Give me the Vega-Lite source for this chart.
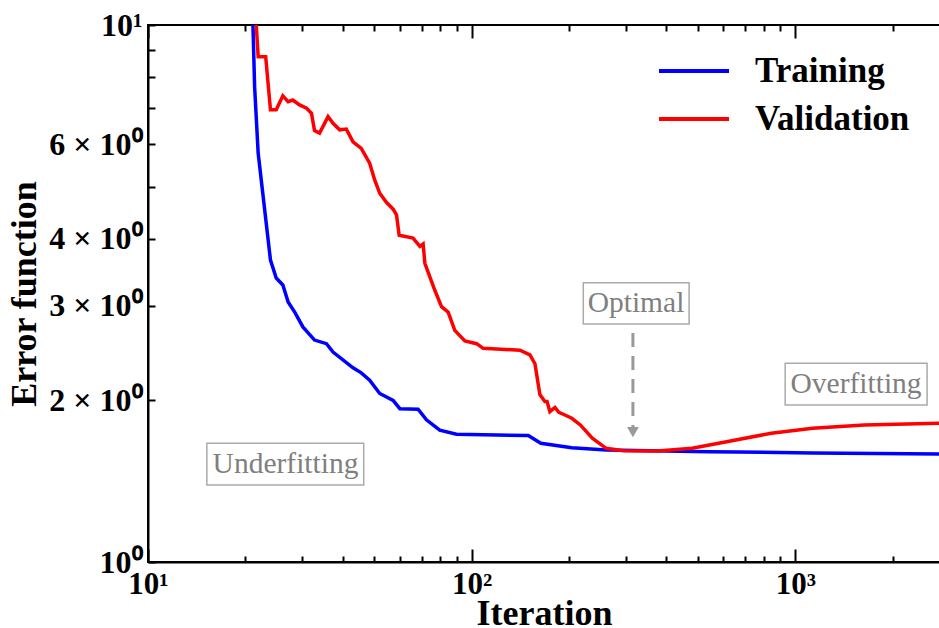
{
  "$schema": "https://vega.github.io/schema/vega-lite/v6.json",
  "width": 792,
  "height": 537,
  "autosize": {"type": "none"},
  "padding": {"left": 148, "top": 25, "right": 0, "bottom": 66},
  "background": "white",
  "config": {"view": {"stroke": "black", "strokeWidth": 2}, "font": "Liberation Serif"},
  "datasets": {
    "curves": [
      {"series": "Training", "iteration": 21.1, "error": 10},
      {"series": "Training", "iteration": 21.35, "error": 7.68},
      {"series": "Training", "iteration": 21.9, "error": 5.77},
      {"series": "Training", "iteration": 23.9, "error": 3.65},
      {"series": "Training", "iteration": 24.9, "error": 3.38},
      {"series": "Training", "iteration": 26.1, "error": 3.28},
      {"series": "Training", "iteration": 27.1, "error": 3.05},
      {"series": "Training", "iteration": 28.4, "error": 2.92},
      {"series": "Training", "iteration": 30.1, "error": 2.74},
      {"series": "Training", "iteration": 32.7, "error": 2.59},
      {"series": "Training", "iteration": 35.6, "error": 2.55},
      {"series": "Training", "iteration": 37.3, "error": 2.46},
      {"series": "Training", "iteration": 43.0, "error": 2.30},
      {"series": "Training", "iteration": 45.6, "error": 2.25},
      {"series": "Training", "iteration": 48.4, "error": 2.18},
      {"series": "Training", "iteration": 52.0, "error": 2.06},
      {"series": "Training", "iteration": 57.2, "error": 2.00},
      {"series": "Training", "iteration": 60.0, "error": 1.93},
      {"series": "Training", "iteration": 68.3, "error": 1.925},
      {"series": "Training", "iteration": 72.5, "error": 1.84},
      {"series": "Training", "iteration": 79.7, "error": 1.76},
      {"series": "Training", "iteration": 89.8, "error": 1.73},
      {"series": "Training", "iteration": 149.6, "error": 1.72},
      {"series": "Training", "iteration": 163.6, "error": 1.664},
      {"series": "Training", "iteration": 203.9, "error": 1.632},
      {"series": "Training", "iteration": 260.4, "error": 1.617},
      {"series": "Training", "iteration": 542.8, "error": 1.605},
      {"series": "Training", "iteration": 1131, "error": 1.596},
      {"series": "Training", "iteration": 2800, "error": 1.589},
      {"series": "Validation", "iteration": 21.6, "error": 10},
      {"series": "Validation", "iteration": 21.9, "error": 8.73},
      {"series": "Validation", "iteration": 23.1, "error": 8.73},
      {"series": "Validation", "iteration": 23.9, "error": 6.95},
      {"series": "Validation", "iteration": 24.9, "error": 6.95},
      {"series": "Validation", "iteration": 26.1, "error": 7.38},
      {"series": "Validation", "iteration": 27.1, "error": 7.20},
      {"series": "Validation", "iteration": 28.0, "error": 7.25},
      {"series": "Validation", "iteration": 29.4, "error": 7.10},
      {"series": "Validation", "iteration": 30.9, "error": 7.00},
      {"series": "Validation", "iteration": 32.0, "error": 6.85},
      {"series": "Validation", "iteration": 32.7, "error": 6.36},
      {"series": "Validation", "iteration": 33.9, "error": 6.29},
      {"series": "Validation", "iteration": 36.0, "error": 6.75},
      {"series": "Validation", "iteration": 37.3, "error": 6.56},
      {"series": "Validation", "iteration": 39.1, "error": 6.38},
      {"series": "Validation", "iteration": 41.0, "error": 6.40},
      {"series": "Validation", "iteration": 43.0, "error": 6.06},
      {"series": "Validation", "iteration": 45.6, "error": 5.89},
      {"series": "Validation", "iteration": 48.4, "error": 5.53},
      {"series": "Validation", "iteration": 50.2, "error": 5.14},
      {"series": "Validation", "iteration": 52.0, "error": 4.86},
      {"series": "Validation", "iteration": 54.6, "error": 4.67},
      {"series": "Validation", "iteration": 57.2, "error": 4.54},
      {"series": "Validation", "iteration": 58.6, "error": 4.43},
      {"series": "Validation", "iteration": 59.7, "error": 4.06},
      {"series": "Validation", "iteration": 65.9, "error": 4.01},
      {"series": "Validation", "iteration": 69.2, "error": 3.87},
      {"series": "Validation", "iteration": 70.8, "error": 3.91},
      {"series": "Validation", "iteration": 71.7, "error": 3.60},
      {"series": "Validation", "iteration": 76.9, "error": 3.21},
      {"series": "Validation", "iteration": 80.7, "error": 2.99},
      {"series": "Validation", "iteration": 84.6, "error": 2.92},
      {"series": "Validation", "iteration": 88.7, "error": 2.70},
      {"series": "Validation", "iteration": 95.3, "error": 2.58},
      {"series": "Validation", "iteration": 103.6, "error": 2.55},
      {"series": "Validation", "iteration": 108.5, "error": 2.50},
      {"series": "Validation", "iteration": 141.0, "error": 2.48},
      {"series": "Validation", "iteration": 151.4, "error": 2.43},
      {"series": "Validation", "iteration": 156.9, "error": 2.34},
      {"series": "Validation", "iteration": 162.5, "error": 2.05},
      {"series": "Validation", "iteration": 168.4, "error": 1.99},
      {"series": "Validation", "iteration": 171.0, "error": 1.99},
      {"series": "Validation", "iteration": 174.5, "error": 1.905},
      {"series": "Validation", "iteration": 180.9, "error": 1.94},
      {"series": "Validation", "iteration": 186.0, "error": 1.90},
      {"series": "Validation", "iteration": 194.2, "error": 1.878},
      {"series": "Validation", "iteration": 203.9, "error": 1.852},
      {"series": "Validation", "iteration": 216.7, "error": 1.80},
      {"series": "Validation", "iteration": 236.0, "error": 1.70},
      {"series": "Validation", "iteration": 260.4, "error": 1.628},
      {"series": "Validation", "iteration": 294.3, "error": 1.612},
      {"series": "Validation", "iteration": 375.8, "error": 1.61},
      {"series": "Validation", "iteration": 480, "error": 1.628},
      {"series": "Validation", "iteration": 613.4, "error": 1.675},
      {"series": "Validation", "iteration": 842.7, "error": 1.737},
      {"series": "Validation", "iteration": 1131, "error": 1.774},
      {"series": "Validation", "iteration": 1632, "error": 1.80},
      {"series": "Validation", "iteration": 2800, "error": 1.813}
    ],
    "boxes": [
      {"label": "Underfitting", "x1": 15.2, "x2": 46.4, "y1": 1.391, "y2": 1.664, "xc": 26.6, "yc": 1.522},
      {"label": "Optimal", "x1": 221.3, "x2": 469.8, "y1": 2.776, "y2": 3.312, "xc": 322, "yc": 3.035},
      {"label": "Overfitting", "x1": 930.6, "x2": 2554, "y1": 1.96, "y2": 2.344, "xc": 1541, "yc": 2.145}
    ],
    "arrow": [
      {"iteration": 315, "start": 2.669, "end": 1.784, "head": 1.746}
    ]
  },
  "layer": [
    {
      "data": {"name": "curves"},
      "mark": {"type": "line", "strokeWidth": 3.5, "clip": true},
      "encoding": {
        "x": {
          "field": "iteration", "type": "quantitative",
          "scale": {"type": "log", "domain": [10, 2800], "nice": false},
          "axis": {
            "orient": "bottom", "title": "Iteration",
            "values": [10, 100, 1000],
            "labelExpr": "datum.value == 10 ? '10¹' : datum.value == 100 ? '10²' : '10³'",
            "ticks": false, "tickSize": 0,
            "grid": true, "gridColor": "black", "gridWidth": 2, "gridOpacity": 1, "gridDash": [13, 511, 13, 0],
            "domainColor": "black", "domainWidth": 2,
            "labelFont": "Liberation Serif", "labelFontSize": 31, "labelFontWeight": "bold", "labelColor": "black",
            "labelPadding": 7, "labelFlush": false, "labelOverlap": false,
            "titleFont": "Liberation Serif", "titleFontSize": 36, "titleFontWeight": "bold", "titleColor": "black", "titlePadding": -3
          }
        },
        "y": {
          "field": "error", "type": "quantitative",
          "scale": {"type": "log", "domain": [1, 10], "nice": false},
          "axis": {
            "orient": "left", "title": "Error function",
            "values": [1, 2, 3, 4, 5, 6, 7, 8, 9, 10],
            "labelExpr": "datum.value == 1 ? '10⁰' : datum.value == 10 ? '10¹' : (datum.value == 2 || datum.value == 3 || datum.value == 4 || datum.value == 6) ? datum.value + ' × 10⁰' : ''",
            "ticks": false, "tickSize": 0,
            "grid": true, "gridColor": "black", "gridWidth": 2, "gridOpacity": 1, "gridDash": [7, 2000],
            "domainColor": "black", "domainWidth": 2,
            "labelFont": "Liberation Serif", "labelFontSize": 32, "labelFontWeight": "bold", "labelColor": "black",
            "labelPadding": 6, "labelOverlap": false,
            "titleFont": "Liberation Serif", "titleFontSize": 36, "titleFontWeight": "bold", "titleColor": "black", "titlePadding": 5
          }
        },
        "color": {
          "field": "series", "type": "nominal",
          "scale": {"domain": ["Training", "Validation"], "range": ["#0000ff", "#ff0000"]},
          "legend": {
            "title": null, "orient": "none", "legendX": 509, "legendY": 28,
            "symbolType": "stroke", "symbolSize": 4900, "symbolStrokeWidth": 4,
            "clipHeight": 36,
            "labelFont": "Liberation Serif", "labelFontSize": 35, "labelFontWeight": "bold", "labelColor": "black",
            "labelOffset": 24, "rowPadding": 12, "padding": 0, "labelLimit": 400
          }
        }
      }
    },
    {
      "data": {"name": "boxes"},
      "mark": {"type": "rect", "fillOpacity": 0, "stroke": "#aaaaaa", "strokeWidth": 1.5},
      "encoding": {
        "x": {
          "field": "x1", "type": "quantitative",
          "axis": {
            "orient": "bottom", "title": null, "labels": false, "domain": false, "ticks": false,
            "values": [20, 30, 40, 50, 60, 70, 80, 90, 200, 300, 400, 500, 600, 700, 800, 900, 2000],
            "grid": true, "gridColor": "black", "gridWidth": 2, "gridOpacity": 1, "gridDash": [6, 525, 6, 0]
          }
        },
        "x2": {"field": "x2"},
        "y": {"field": "y1", "type": "quantitative", "axis": null},
        "y2": {"field": "y2"}
      }
    },
    {
      "data": {"name": "boxes"},
      "mark": {"type": "text", "font": "Liberation Serif", "fontSize": 29.5, "color": "#7f7f7f", "align": "center", "baseline": "middle"},
      "encoding": {
        "x": {"field": "xc", "type": "quantitative", "axis": null},
        "y": {"field": "yc", "type": "quantitative", "axis": null},
        "text": {"field": "label"}
      }
    },
    {
      "data": {"name": "arrow"},
      "mark": {"type": "rule", "color": "#999999", "strokeWidth": 3, "strokeDash": [14, 9]},
      "encoding": {
        "x": {"field": "iteration", "type": "quantitative", "axis": null},
        "y": {"field": "start", "type": "quantitative", "axis": null},
        "y2": {"field": "end"}
      }
    },
    {
      "data": {"name": "arrow"},
      "mark": {"type": "point", "shape": "triangle-down", "filled": true, "color": "#999999", "size": 140, "opacity": 1},
      "encoding": {
        "x": {"field": "iteration", "type": "quantitative", "axis": null},
        "y": {"field": "head", "type": "quantitative", "axis": null}
      }
    }
  ],
  "resolve": {"axis": {"x": "independent", "y": "independent"}}
}
